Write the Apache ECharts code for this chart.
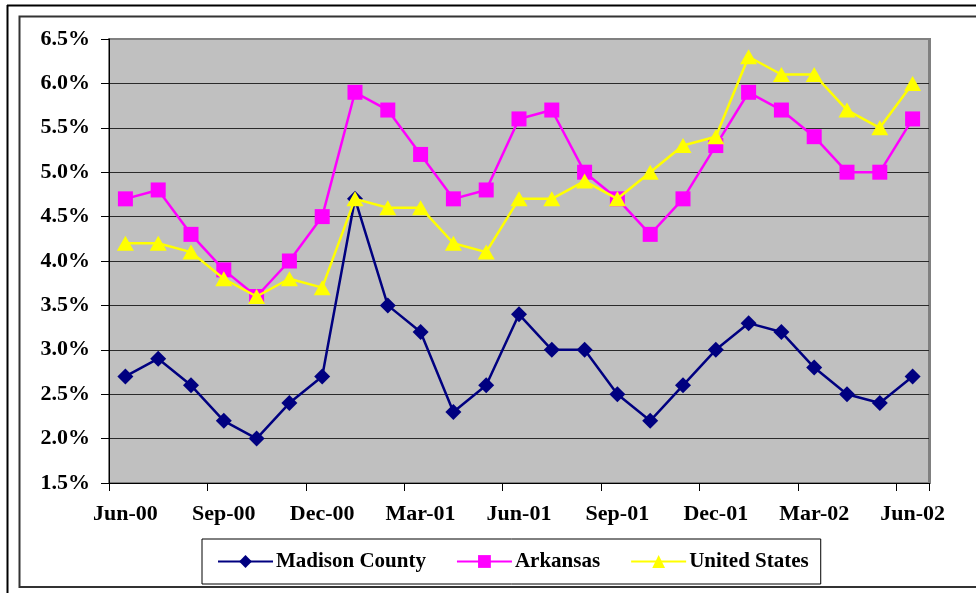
<!DOCTYPE html>
<html>
<head>
<meta charset="utf-8">
<title>Unemployment rates</title>
<script src="https://cdn.jsdelivr.net/npm/echarts@6.0.0/dist/echarts.min.js"></script>
<style>
  html, body { margin: 0; padding: 0; background: #fff; }
  #chart { width: 976px; height: 593px; }
</style>
</head>
<body>
<div id="chart"></div>
<script>
// months Jun-00 .. Jun-02
const months = ['Jun-00', 'Jul-00', 'Aug-00', 'Sep-00', 'Oct-00', 'Nov-00', 'Dec-00', 'Jan-01', 'Feb-01',
  'Mar-01', 'Apr-01', 'May-01', 'Jun-01', 'Jul-01', 'Aug-01', 'Sep-01', 'Oct-01', 'Nov-01',
  'Dec-01', 'Jan-02', 'Feb-02', 'Mar-02', 'Apr-02', 'May-02', 'Jun-02']

// unemployment rate, %
const madison = [2.7, 2.9, 2.6, 2.2, 2.0, 2.4, 2.7, 4.7, 3.5, 3.2, 2.3, 2.6, 3.4, 3.0, 3.0, 2.5, 2.2, 2.6, 3.0, 3.3, 3.2, 2.8, 2.5, 2.4, 2.7]
const arkansas = [4.7, 4.8, 4.3, 3.9, 3.6, 4.0, 4.5, 5.9, 5.7, 5.2, 4.7, 4.8, 5.6, 5.7, 5.0, 4.7, 4.3, 4.7, 5.3, 5.9, 5.7, 5.4, 5.0, 5.0, 5.6]
const unitedStates = [4.2, 4.2, 4.1, 3.8, 3.6, 3.8, 3.7, 4.7, 4.6, 4.6, 4.2, 4.1, 4.7, 4.7, 4.9, 4.7, 5.0, 5.3, 5.4, 6.3, 6.1, 6.1, 5.7, 5.5, 6.0]

const seriesNames = ['Madison County', 'Arkansas', 'United States']

const serif = "'Liberation Serif', 'Times New Roman', serif"

const chart = echarts.init(document.getElementById('chart'))

const option = {
  animation: false,
  backgroundColor: '#fff',
  textStyle: { fontFamily: serif },
  // page frame around the chart
  graphic: [
    { type: 'line', shape: { x1: 7, y1: 5.5, x2: 976, y2: 5.5 }, style: { stroke: '#000', lineWidth: 2 } },
    { type: 'line', shape: { x1: 7.5, y1: 5, x2: 7.5, y2: 593 }, style: { stroke: '#000', lineWidth: 2 } },
    { type: 'rect', shape: { x: 19.5, y: 16.5, width: 970, height: 570.5 }, style: { fill: 'none', stroke: '#333', lineWidth: 2 } },
    // darker edge on the right of plot area
    { type: 'line', shape: { x1: 929.5, y1: 38, x2: 929.5, y2: 484 }, style: { stroke: '#808080', lineWidth: 3 } }
  ],
  grid: {
    left: 109,
    top: 39,
    width: 820,
    height: 444,
    show: true,
    backgroundColor: '#C0C0C0',
    borderColor: '#808080',
    borderWidth: 2
  },
  legend: {
    data: seriesNames,
    left: 202,
    top: 539,
    orient: 'horizontal',
    padding: [12, 12, 12, 15],
    itemGap: 30,
    itemWidth: 55,
    itemHeight: 16,
    borderColor: '#000',
    borderWidth: 1,
    backgroundColor: '#fff',
    textStyle: { fontFamily: serif, fontSize: 21, fontWeight: 'bold', color: '#000', padding: [0, 0, 0, -2] }
  },
  xAxis: {
    type: 'category',
    data: months,
    boundaryGap: true,
    axisLine: { lineStyle: { color: '#000', width: 1 } },
    axisTick: { show: true, interval: 2, length: 8, lineStyle: { color: '#000' } },
    axisLabel: {
      interval: 2,
      margin: 20,
      color: '#000',
      fontFamily: serif,
      fontSize: 22,
      fontWeight: 'bold'
    },
    splitLine: { show: false }
  },
  yAxis: {
    type: 'value',
    min: 1.5,
    max: 6.5,
    interval: 0.5,
    axisLine: { show: true, lineStyle: { color: '#000', width: 1 } },
    axisTick: { show: true, length: 8, lineStyle: { color: '#000' } },
    axisLabel: {
      margin: 19,
      color: '#000',
      fontFamily: serif,
      fontSize: 22,
      fontWeight: 'bold',
      formatter: v => v.toFixed(1) + '%'
    },
    splitLine: { show: true, showMaxLine: false, showMinLine: false, lineStyle: { color: '#2a2a2a', width: 1 } }
  },
  series: [
    {
      name: seriesNames[0],
      type: 'line',
      data: madison,
      symbol: 'diamond',
      symbolSize: 16,
      color: '#000080',
      lineStyle: { color: '#000080', width: 2.5 },
      itemStyle: { color: '#000080' },
      z: 3
    },
    {
      name: seriesNames[1],
      type: 'line',
      data: arkansas,
      symbol: 'rect',
      symbolSize: 15,
      color: '#FF00FF',
      lineStyle: { color: '#FF00FF', width: 2.5 },
      itemStyle: { color: '#FF00FF' },
      z: 2
    },
    {
      name: seriesNames[2],
      type: 'line',
      data: unitedStates,
      symbol: 'triangle',
      symbolSize: [17, 15],
      color: '#FFFF00',
      lineStyle: { color: '#FFFF00', width: 2.5 },
      itemStyle: { color: '#FFFF00' },
      z: 4
    }
  ]
}

chart.setOption(option)
</script>
</body>
</html>
